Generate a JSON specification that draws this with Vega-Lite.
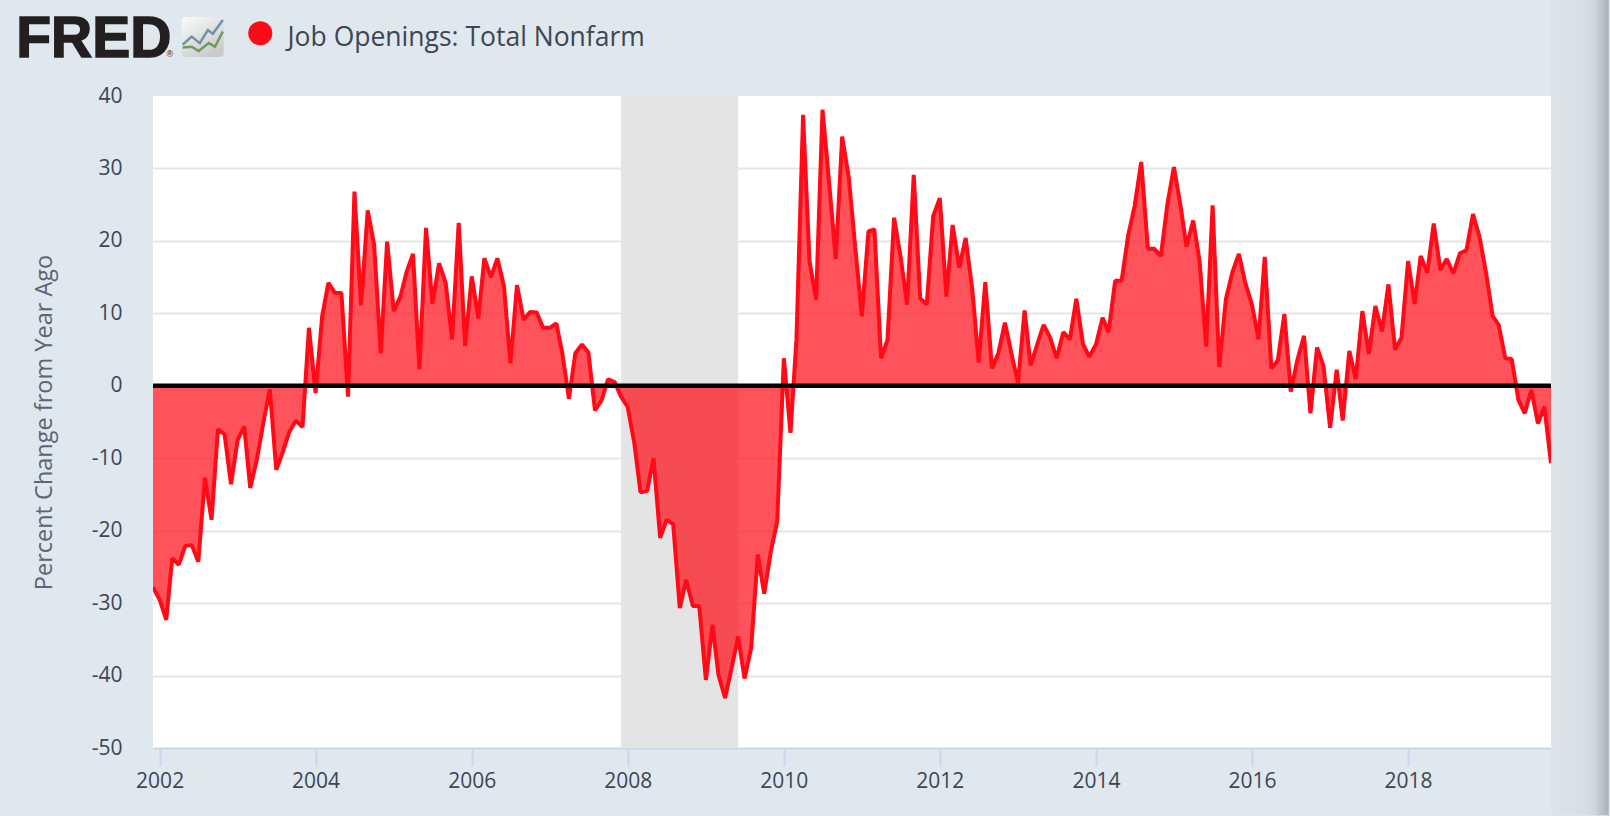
{
  "$schema": "https://vega.github.io/schema/vega-lite/v6.json",
  "width": 1398,
  "height": 652,
  "autosize": "none",
  "padding": {"left": 153, "top": 96, "right": 59, "bottom": 68},
  "background": "#dfe7ef",
  "config": {"view": {"fill": "white", "stroke": null}},
  "datasets": {
    "openings": [
      {"date": "2001-12-01", "value": -27.8},
      {"date": "2002-01-01", "value": -29.5},
      {"date": "2002-02-01", "value": -32.3},
      {"date": "2002-03-01", "value": -23.8},
      {"date": "2002-04-01", "value": -24.7},
      {"date": "2002-05-01", "value": -22.1},
      {"date": "2002-06-01", "value": -22.0},
      {"date": "2002-07-01", "value": -24.3},
      {"date": "2002-08-01", "value": -12.7},
      {"date": "2002-09-01", "value": -18.5},
      {"date": "2002-10-01", "value": -6.0},
      {"date": "2002-11-01", "value": -6.7},
      {"date": "2002-12-01", "value": -13.6},
      {"date": "2003-01-01", "value": -7.5},
      {"date": "2003-02-01", "value": -5.6},
      {"date": "2003-03-01", "value": -14.1},
      {"date": "2003-04-01", "value": -10.2},
      {"date": "2003-05-01", "value": -5.2},
      {"date": "2003-06-01", "value": -0.5},
      {"date": "2003-07-01", "value": -11.6},
      {"date": "2003-08-01", "value": -9.1},
      {"date": "2003-09-01", "value": -6.3},
      {"date": "2003-10-01", "value": -4.8},
      {"date": "2003-11-01", "value": -5.7},
      {"date": "2003-12-01", "value": 8.0},
      {"date": "2004-01-01", "value": -1.0},
      {"date": "2004-02-01", "value": 9.6},
      {"date": "2004-03-01", "value": 14.2},
      {"date": "2004-04-01", "value": 12.8},
      {"date": "2004-05-01", "value": 12.8},
      {"date": "2004-06-01", "value": -1.5},
      {"date": "2004-07-01", "value": 26.8},
      {"date": "2004-08-01", "value": 11.1},
      {"date": "2004-09-01", "value": 24.2},
      {"date": "2004-10-01", "value": 19.5},
      {"date": "2004-11-01", "value": 4.5},
      {"date": "2004-12-01", "value": 19.9},
      {"date": "2005-01-01", "value": 10.3},
      {"date": "2005-02-01", "value": 12.3},
      {"date": "2005-03-01", "value": 15.6},
      {"date": "2005-04-01", "value": 18.2},
      {"date": "2005-05-01", "value": 2.3},
      {"date": "2005-06-01", "value": 21.8},
      {"date": "2005-07-01", "value": 11.3},
      {"date": "2005-08-01", "value": 16.9},
      {"date": "2005-09-01", "value": 14.2},
      {"date": "2005-10-01", "value": 6.4},
      {"date": "2005-11-01", "value": 22.5},
      {"date": "2005-12-01", "value": 5.5},
      {"date": "2006-01-01", "value": 15.1},
      {"date": "2006-02-01", "value": 9.3},
      {"date": "2006-03-01", "value": 17.6},
      {"date": "2006-04-01", "value": 15.0},
      {"date": "2006-05-01", "value": 17.6},
      {"date": "2006-06-01", "value": 13.7},
      {"date": "2006-07-01", "value": 3.1},
      {"date": "2006-08-01", "value": 13.9},
      {"date": "2006-09-01", "value": 9.1},
      {"date": "2006-10-01", "value": 10.2},
      {"date": "2006-11-01", "value": 10.1},
      {"date": "2006-12-01", "value": 8.0},
      {"date": "2007-01-01", "value": 8.0},
      {"date": "2007-02-01", "value": 8.6},
      {"date": "2007-03-01", "value": 4.5},
      {"date": "2007-04-01", "value": -1.8},
      {"date": "2007-05-01", "value": 4.5},
      {"date": "2007-06-01", "value": 5.7},
      {"date": "2007-07-01", "value": 4.6},
      {"date": "2007-08-01", "value": -3.4},
      {"date": "2007-09-01", "value": -2.0},
      {"date": "2007-10-01", "value": 0.9},
      {"date": "2007-11-01", "value": 0.5},
      {"date": "2007-12-01", "value": -1.5},
      {"date": "2008-01-01", "value": -2.9},
      {"date": "2008-02-01", "value": -7.9},
      {"date": "2008-03-01", "value": -14.7},
      {"date": "2008-04-01", "value": -14.5},
      {"date": "2008-05-01", "value": -10.0},
      {"date": "2008-06-01", "value": -21.0},
      {"date": "2008-07-01", "value": -18.5},
      {"date": "2008-08-01", "value": -19.1},
      {"date": "2008-09-01", "value": -30.7},
      {"date": "2008-10-01", "value": -26.8},
      {"date": "2008-11-01", "value": -30.4},
      {"date": "2008-12-01", "value": -30.4},
      {"date": "2009-01-01", "value": -40.6},
      {"date": "2009-02-01", "value": -33.0},
      {"date": "2009-03-01", "value": -39.9},
      {"date": "2009-04-01", "value": -43.1},
      {"date": "2009-05-01", "value": -39.0},
      {"date": "2009-06-01", "value": -34.6},
      {"date": "2009-07-01", "value": -40.4},
      {"date": "2009-08-01", "value": -36.2},
      {"date": "2009-09-01", "value": -23.3},
      {"date": "2009-10-01", "value": -28.7},
      {"date": "2009-11-01", "value": -22.9},
      {"date": "2009-12-01", "value": -18.7},
      {"date": "2010-01-01", "value": 3.8},
      {"date": "2010-02-01", "value": -6.5},
      {"date": "2010-03-01", "value": 6.4},
      {"date": "2010-04-01", "value": 37.4},
      {"date": "2010-05-01", "value": 17.2},
      {"date": "2010-06-01", "value": 11.9},
      {"date": "2010-07-01", "value": 38.1},
      {"date": "2010-08-01", "value": 28.0},
      {"date": "2010-09-01", "value": 17.5},
      {"date": "2010-10-01", "value": 34.4},
      {"date": "2010-11-01", "value": 28.7},
      {"date": "2010-12-01", "value": 19.2},
      {"date": "2011-01-01", "value": 9.6},
      {"date": "2011-02-01", "value": 21.3},
      {"date": "2011-03-01", "value": 21.6},
      {"date": "2011-04-01", "value": 3.8},
      {"date": "2011-05-01", "value": 6.3},
      {"date": "2011-06-01", "value": 23.2},
      {"date": "2011-07-01", "value": 17.9},
      {"date": "2011-08-01", "value": 11.2},
      {"date": "2011-09-01", "value": 29.1},
      {"date": "2011-10-01", "value": 12.1},
      {"date": "2011-11-01", "value": 11.2},
      {"date": "2011-12-01", "value": 23.4},
      {"date": "2012-01-01", "value": 25.9},
      {"date": "2012-02-01", "value": 12.3},
      {"date": "2012-03-01", "value": 22.2},
      {"date": "2012-04-01", "value": 16.3},
      {"date": "2012-05-01", "value": 20.4},
      {"date": "2012-06-01", "value": 13.3},
      {"date": "2012-07-01", "value": 3.2},
      {"date": "2012-08-01", "value": 14.3},
      {"date": "2012-09-01", "value": 2.4},
      {"date": "2012-10-01", "value": 4.5},
      {"date": "2012-11-01", "value": 8.7},
      {"date": "2012-12-01", "value": 4.5},
      {"date": "2013-01-01", "value": 0.4},
      {"date": "2013-02-01", "value": 10.4},
      {"date": "2013-03-01", "value": 2.8},
      {"date": "2013-04-01", "value": 5.7},
      {"date": "2013-05-01", "value": 8.4},
      {"date": "2013-06-01", "value": 6.6},
      {"date": "2013-07-01", "value": 3.8},
      {"date": "2013-08-01", "value": 7.4},
      {"date": "2013-09-01", "value": 6.4},
      {"date": "2013-10-01", "value": 12.0},
      {"date": "2013-11-01", "value": 5.8},
      {"date": "2013-12-01", "value": 4.0},
      {"date": "2014-01-01", "value": 5.7},
      {"date": "2014-02-01", "value": 9.4},
      {"date": "2014-03-01", "value": 7.4},
      {"date": "2014-04-01", "value": 14.5},
      {"date": "2014-05-01", "value": 14.5},
      {"date": "2014-06-01", "value": 20.8},
      {"date": "2014-07-01", "value": 24.8},
      {"date": "2014-08-01", "value": 30.9},
      {"date": "2014-09-01", "value": 18.9},
      {"date": "2014-10-01", "value": 18.9},
      {"date": "2014-11-01", "value": 17.9},
      {"date": "2014-12-01", "value": 25.0},
      {"date": "2015-01-01", "value": 30.2},
      {"date": "2015-02-01", "value": 24.8},
      {"date": "2015-03-01", "value": 19.2},
      {"date": "2015-04-01", "value": 22.8},
      {"date": "2015-05-01", "value": 17.2},
      {"date": "2015-06-01", "value": 5.4},
      {"date": "2015-07-01", "value": 24.9},
      {"date": "2015-08-01", "value": 2.6},
      {"date": "2015-09-01", "value": 11.9},
      {"date": "2015-10-01", "value": 15.6},
      {"date": "2015-11-01", "value": 18.2},
      {"date": "2015-12-01", "value": 14.2},
      {"date": "2016-01-01", "value": 11.2},
      {"date": "2016-02-01", "value": 6.4},
      {"date": "2016-03-01", "value": 17.8},
      {"date": "2016-04-01", "value": 2.4},
      {"date": "2016-05-01", "value": 3.5},
      {"date": "2016-06-01", "value": 9.9},
      {"date": "2016-07-01", "value": -0.8},
      {"date": "2016-08-01", "value": 3.6},
      {"date": "2016-09-01", "value": 6.9},
      {"date": "2016-10-01", "value": -3.8},
      {"date": "2016-11-01", "value": 5.3},
      {"date": "2016-12-01", "value": 2.7},
      {"date": "2017-01-01", "value": -5.8},
      {"date": "2017-02-01", "value": 2.2},
      {"date": "2017-03-01", "value": -4.8},
      {"date": "2017-04-01", "value": 4.8},
      {"date": "2017-05-01", "value": 0.9},
      {"date": "2017-06-01", "value": 10.3},
      {"date": "2017-07-01", "value": 4.4},
      {"date": "2017-08-01", "value": 11.0},
      {"date": "2017-09-01", "value": 7.5},
      {"date": "2017-10-01", "value": 14.0},
      {"date": "2017-11-01", "value": 5.0},
      {"date": "2017-12-01", "value": 6.6},
      {"date": "2018-01-01", "value": 17.2},
      {"date": "2018-02-01", "value": 11.3},
      {"date": "2018-03-01", "value": 17.9},
      {"date": "2018-04-01", "value": 15.6},
      {"date": "2018-05-01", "value": 22.4},
      {"date": "2018-06-01", "value": 16.0},
      {"date": "2018-07-01", "value": 17.5},
      {"date": "2018-08-01", "value": 15.5},
      {"date": "2018-09-01", "value": 18.3},
      {"date": "2018-10-01", "value": 18.7},
      {"date": "2018-11-01", "value": 23.7},
      {"date": "2018-12-01", "value": 20.6},
      {"date": "2019-01-01", "value": 15.6},
      {"date": "2019-02-01", "value": 9.6},
      {"date": "2019-03-01", "value": 8.4},
      {"date": "2019-04-01", "value": 3.8},
      {"date": "2019-05-01", "value": 3.7},
      {"date": "2019-06-01", "value": -1.9},
      {"date": "2019-07-01", "value": -3.8},
      {"date": "2019-08-01", "value": -0.6},
      {"date": "2019-09-01", "value": -5.2},
      {"date": "2019-10-01", "value": -2.9},
      {"date": "2019-11-01", "value": -10.7}
    ],
    "recessions": [{"start": "2007-12-01", "end": "2009-06-01"}],
    "logoBox": [{"start": "2002-04-14", "end": "2002-10-28", "top": 50.9, "bottom": 45.4}],
    "logoLines": [
      {"date": "2002-04-19", "value": 47.1, "line": "blue"},
      {"date": "2002-05-31", "value": 48.2, "line": "blue"},
      {"date": "2002-07-08", "value": 47.3, "line": "blue"},
      {"date": "2002-08-15", "value": 49.1, "line": "blue"},
      {"date": "2002-09-07", "value": 48.6, "line": "blue"},
      {"date": "2002-10-24", "value": 50.5, "line": "blue"},
      {"date": "2002-04-19", "value": 46.7, "line": "green"},
      {"date": "2002-05-31", "value": 46.8, "line": "green"},
      {"date": "2002-07-03", "value": 46.2, "line": "green"},
      {"date": "2002-08-19", "value": 47.3, "line": "green"},
      {"date": "2002-09-17", "value": 46.8, "line": "green"},
      {"date": "2002-10-24", "value": 48.9, "line": "green"}
    ],
    "logoWord": [{"date": "2000-03-01", "value": 45.4, "text": "FRED"}],
    "logoMark": [{"date": "2002-02-18", "value": 45.8, "text": "®"}],
    "pageEdge": [{"start": "2019-11-01", "end": "2020-07-28", "top": 53.3, "bottom": -59.3}]
  },
  "layer": [
    {
      "data": {"name": "recessions"},
      "mark": {"type": "rect", "color": "#e4e4e4"},
      "encoding": {
        "x": {
          "field": "start",
          "type": "temporal",
          "title": null,
          "scale": {"type": "utc", "domain": ["2001-12-01", "2019-11-01"]},
          "axis": {
            "format": "%Y",
            "tickCount": {"interval": "year", "step": 2},
            "grid": false,
            "labelFont": "Open Sans",
            "labelFontSize": 21,
            "labelColor": "#3e4652",
            "labelPadding": 4,
            "labelFlush": false,
            "labelOverlap": false,
            "domainColor": "#ccd6eb",
            "domainWidth": 2,
            "tickColor": "#ccd6eb",
            "tickWidth": 2,
            "tickSize": 18
          }
        },
        "x2": {"field": "end"}
      }
    },
    {
      "data": {"name": "openings"},
      "mark": {"type": "area", "color": "#ff0a16", "opacity": 0.7, "clip": true},
      "encoding": {
        "x": {"field": "date", "type": "temporal"},
        "y": {
          "field": "value",
          "type": "quantitative",
          "title": "Percent Change from Year Ago",
          "scale": {"domain": [-50, 40], "nice": false},
          "axis": {
            "values": [-50, -40, -30, -20, -10, 0, 10, 20, 30, 40],
            "labelExpr": "'' + datum.value",
            "domain": false,
            "ticks": false,
            "tickSize": 0,
            "grid": true,
            "gridColor": "#e6e6e6",
            "gridWidth": 2,
            "gridOpacity": {"condition": {"test": "datum.value == 40 || datum.value == -50", "value": 0}, "value": 1},
            "labelFont": "Open Sans",
            "labelFontSize": 21,
            "labelColor": "#3e4652",
            "labelPadding": 31,
            "titleFont": "Open Sans",
            "titleFontSize": 23.5,
            "titleFontWeight": "normal",
            "titleColor": "#5c6570",
            "titleX": -109,
            "titleY": 326,
            "titleBaseline": "middle"
          }
        }
      }
    },
    {
      "data": {"name": "openings"},
      "mark": {"type": "line", "strokeWidth": 4, "strokeJoin": "bevel", "clip": true},
      "encoding": {
        "x": {"field": "date", "type": "temporal"},
        "y": {"field": "value", "type": "quantitative"},
        "color": {
          "datum": "Job Openings: Total Nonfarm",
          "scale": {"range": ["#ff0a16"]},
          "legend": {
            "title": null,
            "orient": "none",
            "legendX": 94,
            "legendY": -76,
            "padding": 0,
            "symbolType": "circle",
            "symbolSize": 576,
            "symbolFillColor": "#ff0a16",
            "symbolStrokeWidth": 0,
            "labelFont": "Open Sans",
            "labelFontSize": 26.5,
            "labelColor": "#3e4652",
            "labelOffset": 14,
            "labelLimit": 500,
            "encoding": {"labels": {"dy": {"value": 5}}}
          }
        }
      }
    },
    {
      "data": {"values": [{"level": 0}]},
      "mark": {"type": "rule", "color": "#000000", "strokeWidth": 4.5},
      "encoding": {"y": {"field": "level", "type": "quantitative"}}
    },
    {
      "data": {"name": "logoWord"},
      "mark": {
        "type": "text",
        "font": "Liberation Sans",
        "fontSize": 57,
        "fontWeight": "bold",
        "align": "left",
        "baseline": "alphabetic",
        "color": "#231f20",
        "stroke": "#231f20",
        "strokeWidth": 1.5
      },
      "encoding": {
        "x": {"field": "date", "type": "temporal"},
        "y": {"field": "value", "type": "quantitative"},
        "text": {"field": "text"}
      }
    },
    {
      "data": {"name": "logoMark"},
      "mark": {"type": "text", "font": "Liberation Sans", "fontSize": 9, "color": "#231f20"},
      "encoding": {
        "x": {"field": "date", "type": "temporal"},
        "y": {"field": "value", "type": "quantitative"},
        "text": {"field": "text"}
      }
    },
    {
      "data": {"name": "logoBox"},
      "mark": {
        "type": "rect",
        "cornerRadius": 4,
        "color": {
          "gradient": "linear",
          "x1": 0, "y1": 0, "x2": 0.6, "y2": 1,
          "stops": [{"offset": 0, "color": "#fbfbfb"}, {"offset": 1, "color": "#c9cccd"}]
        }
      },
      "encoding": {
        "x": {"field": "start", "type": "temporal"},
        "x2": {"field": "end"},
        "y": {"field": "top", "type": "quantitative"},
        "y2": {"field": "bottom"}
      }
    },
    {
      "data": {"name": "logoLines"},
      "mark": {"type": "line", "strokeWidth": 2.5, "color": "#6f93a8"},
      "transform": [{"filter": "datum.line == 'blue'"}],
      "encoding": {
        "x": {"field": "date", "type": "temporal"},
        "y": {"field": "value", "type": "quantitative"}
      }
    },
    {
      "data": {"name": "logoLines"},
      "mark": {"type": "line", "strokeWidth": 2.5, "color": "#6f9a5c"},
      "transform": [{"filter": "datum.line == 'green'"}],
      "encoding": {
        "x": {"field": "date", "type": "temporal"},
        "y": {"field": "value", "type": "quantitative"}
      }
    },
    {
      "data": {"name": "pageEdge"},
      "mark": {
        "type": "rect",
        "color": {
          "gradient": "linear",
          "x1": 0, "y1": 0, "x2": 1, "y2": 0,
          "stops": [
            {"offset": 0, "color": "#dce4eb"},
            {"offset": 0.55, "color": "#d8e0e7"},
            {"offset": 0.75, "color": "#d0d8de"},
            {"offset": 1, "color": "#a8b0b6"}
          ]
        }
      },
      "encoding": {
        "x": {"field": "start", "type": "temporal"},
        "x2": {"field": "end"},
        "y": {"field": "top", "type": "quantitative"},
        "y2": {"field": "bottom"}
      }
    }
  ]
}
